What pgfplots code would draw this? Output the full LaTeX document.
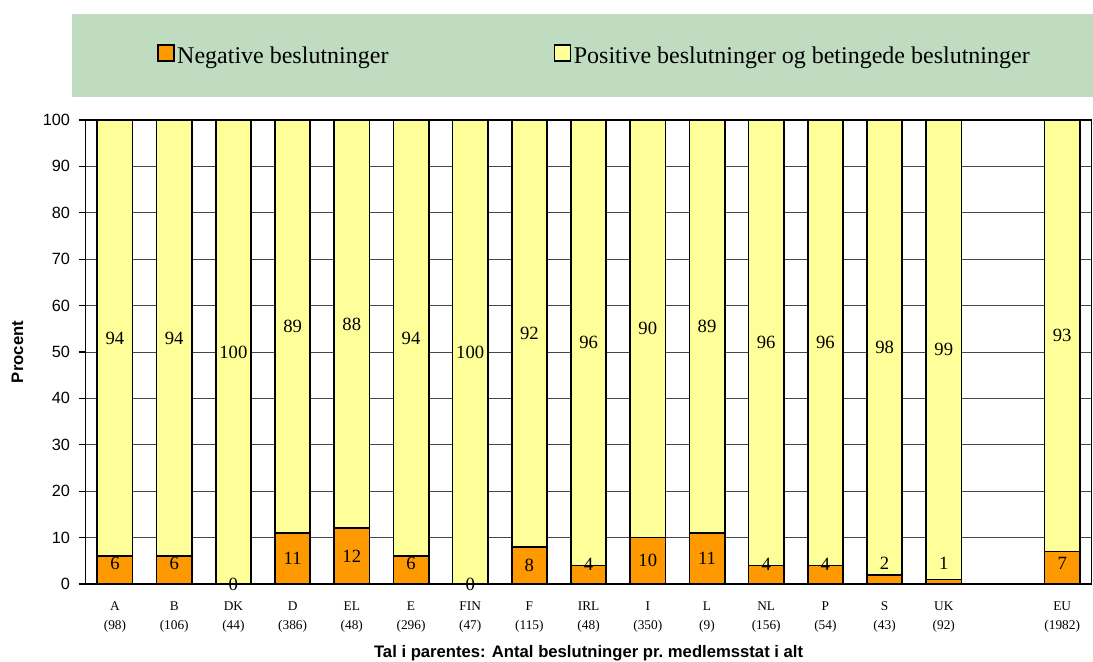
\documentclass[border=0pt]{standalone}
\usepackage{fontspec}
\setmainfont{Liberation Serif}
\newfontfamily\arial{Liberation Sans}
\usepackage{pgfplots}
\usepackage{pgfplotstable}
\pgfplotsset{compat=1.18}
\definecolor{negc}{HTML}{FF9900}
\definecolor{posc}{HTML}{FFFF99}
\definecolor{legbg}{HTML}{C0DCC0}
\pgfplotstableread{
x neg full negly posly neglab poslab
0  6  100 4.4 53   6  94
1  6  100 4.4 53   6  94
2  0  100 0   50   0  100
3  11 100 5.5 55.5 11 89
4  12 100 6   56   12 88
5  6  100 4.4 53   6  94
6  0  100 0   50   0  100
7  8  100 4.1 54   8  92
8  4  100 4.2 52   4  96
9  10 100 5   55   10 90
10 11 100 5.5 55.5 11 89
11 4  100 4.2 52   4  96
12 4  100 4.2 52   4  96
13 2  100 4.4 51   2  98
14 1  100 4.4 50.5 1  99
16 7  100 4.4 53.5 7  93
}\data
\begin{document}
\begin{tikzpicture}[x=0.75pt,y=0.75pt]
\useasboundingbox (0,0) rectangle (1093,661);
\fill[legbg] (72,563.5) rectangle (1093,647);
\begin{axis}[
  at={(64.05pt,57.75pt)}, anchor=south west,
  width=754.8pt, height=348pt, scale only axis,
  xmin=-0.5, xmax=16.5, ymin=0, ymax=100,
  clip=false,
  axis line style={black, line width=0.9pt},
  ytick={0,10,...,100},
  xtick={0,...,16},
  xticklabels={{A\\(98)},{B\\(106)},{DK\\(44)},{D\\(386)},{EL\\(48)},{E\\(296)},{FIN\\(47)},{F\\(115)},{IRL\\(48)},{I\\(350)},{L\\(9)},{NL\\(156)},{P\\(54)},{S\\(43)},{UK\\(92)},{},{EU\\(1982)}},
  minor xtick={-0.5,0.5,...,16.5},
  xtick style={draw=none},
  minor tick length=4pt,
  major tick length=5pt,
  tick align=outside,
  tick pos=left,
  tick style={black, line width=0.8pt},
  ymajorgrids,
  grid style={black!72, line width=0.7pt},
  /pgf/number format/assume math mode=true,
  yticklabel style={font=\arial\fontsize{12.2}{14}\selectfont, xshift=-3pt},
  xticklabel style={align=center, font=\fontsize{10}{14}\selectfont, yshift=-5pt},
  ylabel={Procent},
  ylabel style={font=\arial\bfseries\fontsize{12.5}{14}\selectfont, at={(axis description cs:-0.0675,0.5)}, anchor=center},
  xlabel={Tal i parentes: Antal beslutninger pr.\ medlemsstat i alt},
  xlabel style={font=\arial\bfseries\fontsize{12.5}{14}\selectfont, at={(axis description cs:0.5,-0.15)}, anchor=center},
  legend columns=2,
  legend image code/.code={\draw[#1, line width=1.2pt] (0pt,-3.8pt) rectangle (11.8pt,8pt);},
  legend style={at={(axis description cs:0.0711,1.138)}, anchor=west, draw=none, fill=none, inner sep=0pt,
    font=\fontsize{18}{21}\selectfont, nodes={inner sep=2pt},
    /tikz/every even column/.append style={column sep=122pt}},
]
\addplot[ybar, bar width=26.5pt, bar shift=0pt, fill=posc, draw=black, line width=1.25pt, forget plot] table[x=x, y=full]{\data};
\addplot[ybar, bar width=26.5pt, bar shift=0pt, fill=negc, draw=black, line width=1.25pt, forget plot] table[x=x, y=neg]{\data};
\addplot[draw=none, mark=none, forget plot, nodes near coords, point meta=explicit symbolic,
  nodes near coords align={center},
  every node near coord/.append style={font=\fontsize{14}{16}\selectfont, inner sep=0pt}]
  table[x=x, y=negly, meta=neglab]{\data};
\addplot[draw=none, mark=none, forget plot, nodes near coords, point meta=explicit symbolic,
  nodes near coords align={center},
  every node near coord/.append style={font=\fontsize{14}{16}\selectfont, inner sep=0pt}]
  table[x=x, y=posly, meta=poslab]{\data};
\addlegendimage{fill=negc, draw=black}
\addlegendentry{Negative beslutninger}
\addlegendimage{fill=posc, draw=black}
\addlegendentry{Positive beslutninger og betingede beslutninger}
\end{axis}
\end{tikzpicture}
\end{document}
